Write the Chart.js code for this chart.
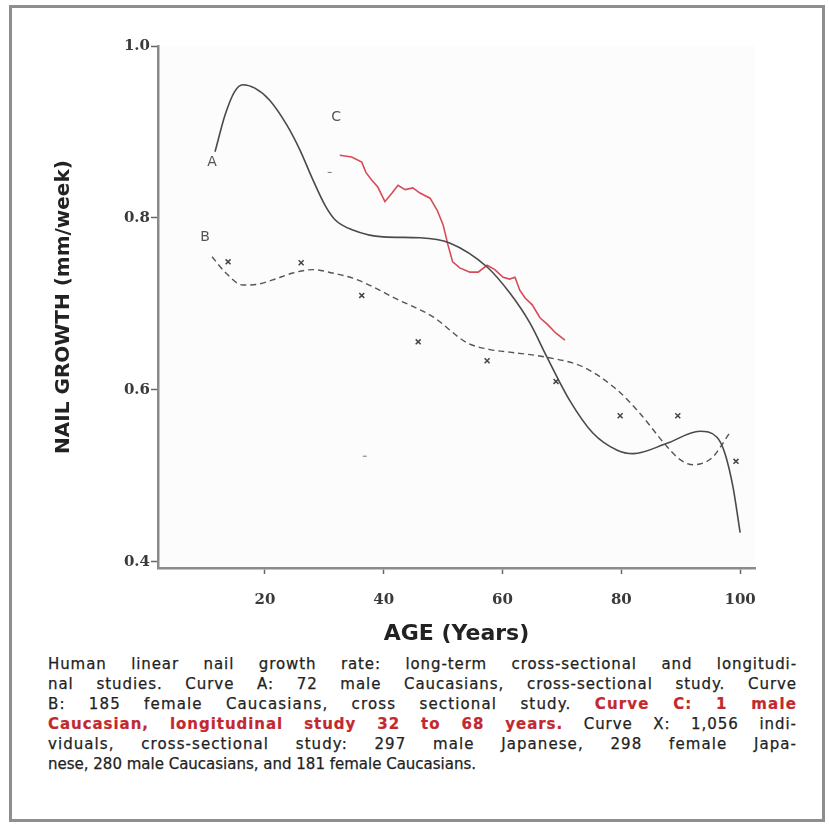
<!DOCTYPE html>
<html>
<head>
<meta charset="utf-8">
<title>Nail growth</title>
<script src="https://cdn.jsdelivr.net/npm/chart.js@4.4.0/dist/chart.umd.min.js"></script>
<style>
    html, body { margin: 0; padding: 0; background: #fff; }
    #page { position: relative; width: 829px; height: 827px; overflow: hidden; }
    #frame { position: absolute; left: 9px; top: 5px; width: 810px; height: 811px; border: 3px solid #8e8e8e; }
    #chart { position: absolute; left: 0; top: 0; }
    #caption { position: absolute; left: 48px; top: 654px; width: 749px;
        font-family: "DejaVu Sans", sans-serif; font-size: 15px; line-height: 20px; color: #222;
        -webkit-text-stroke: 0.25px #222; }
    #caption div { white-space: nowrap; text-align: left; }
    #caption div.just { text-align: justify; text-align-last: justify; }
    .red { color: #c3282f; font-weight: bold; -webkit-text-stroke: 0.2px #c3282f; }
</style>
</head>
<body>
<div id="page">
    <div id="frame"></div>
    <canvas id="chart" width="829" height="650"></canvas>
    <div id="caption">
        <div>Human linear nail growth rate: long-term cross-sectional and longitudi-</div>
        <div>nal studies. Curve A: 72 male Caucasians, cross-sectional study. Curve</div>
        <div>B: 185 female Caucasians, cross sectional study. <span class="red">Curve C: 1 male</span></div>
        <div><span class="red">Caucasian, longitudinal study 32 to 68 years.</span> Curve X: 1,056 indi-</div>
        <div>viduals, cross-sectional study: 297 male Japanese, 298 female Japa-</div>
        <div class="last">nese, 280 male Caucasians, and 181 female Caucasians.</div>
    </div>
</div>
<script>
//data (age in years, growth in mm/week)

//curve A: 72 male Caucasians (solid)
const ageA = [11.6, 13.3, 14.9, 16.3, 18.3, 20.8, 23.7, 25.9, 28.1, 30.1, 31.8, 34.8, 39.9, 46.1, 51.1,
    57.4, 61.2, 64.6, 67.5, 71.3, 75.2, 79.3, 82, 87.7, 93.2, 96.1, 97.4, 98.8, 100];
const rateA = [0.877, 0.92, 0.947, 0.955, 0.951, 0.937, 0.908, 0.879, 0.844, 0.815, 0.798, 0.786, 0.778, 0.777, 0.771,
    0.743, 0.713, 0.678, 0.638, 0.588, 0.55, 0.53, 0.526, 0.538, 0.552, 0.545, 0.527, 0.487, 0.434];

//curve B: 185 female Caucasians (dashed)
const ageB = [11.1, 13.3, 16.3, 18.8, 21.3, 24.7, 28.1, 31.4, 34.8, 38.2, 41.5, 48.3, 54, 57.9, 61.2,
    67.5, 73.5, 79.3, 83.1, 87.7, 89.9, 92.1, 94.1, 95.4, 96.9, 98.3];
const rateB = [0.755, 0.737, 0.722, 0.723, 0.728, 0.736, 0.74, 0.736, 0.73, 0.72, 0.708, 0.685, 0.655, 0.647, 0.644,
    0.638, 0.627, 0.6, 0.573, 0.534, 0.519, 0.513, 0.516, 0.522, 0.536, 0.551];

//curve C: 1 male Caucasian, longitudinal (red)
const ageC = [32.6, 34.6, 36.3, 37, 38, 39, 40.2, 41.4, 42.4, 43.6, 44.9, 46.1, 47.8, 49, 50, 50.8, 51.6,
    52.8, 54.5, 55.9, 57.4, 58.7, 60.1, 61.2, 62.1, 62.9, 63.8, 65, 66.3, 67.6, 69, 70.5];
const rateC = [0.873, 0.871, 0.865, 0.853, 0.844, 0.836, 0.819, 0.829, 0.838, 0.833, 0.835, 0.829, 0.823, 0.809, 0.792, 0.769, 0.749,
    0.742, 0.737, 0.737, 0.745, 0.74, 0.731, 0.729, 0.731, 0.716, 0.707, 0.699, 0.684, 0.676, 0.666, 0.658];

//curve X: 1,056 individuals (markers)
const ageX = [13.8, 26.1, 36.3, 45.8, 57.4, 69, 79.8, 89.5, 99.3];
const rateX = [0.749, 0.748, 0.71, 0.656, 0.634, 0.61, 0.57, 0.57, 0.517];

//stray specks on the scan
const ageSpeck = [30.9, 36.8];
const rateSpeck = [0.853, 0.523];

//curve letters
const letters = ["A", "B", "C"];
const letterAge = [11.1, 9.9, 32];
const letterRate = [0.865, 0.778, 0.917];

//axis ticks
const xTicks = [20, 40, 60, 80, 100];
const yTicks = [0.4, 0.6, 0.8, 1.0];

//zip two arrays into {x, y} points
function toPoints(xs, ys) {
    return xs.map((x, i) => ({ x: x, y: ys[i] }));
}

//faint background of the plot area
const plotBackground = {
    id: "plotBackground",
    beforeDraw(chart) {
        const { ctx, chartArea } = chart;
        ctx.save();
        ctx.fillStyle = "#fcfcfc";
        ctx.fillRect(chartArea.left, chartArea.top, chartArea.width, chartArea.height);
        ctx.restore();
    }
};

//curve letters A, B, C placed in data coordinates
const curveLetters = {
    id: "curveLetters",
    afterDatasetsDraw(chart) {
        const ctx = chart.ctx;
        const sx = chart.scales.x;
        const sy = chart.scales.y;
        ctx.save();
        ctx.font = "14px 'DejaVu Sans'";
        ctx.fillStyle = "#555";
        ctx.textAlign = "center";
        ctx.textBaseline = "middle";
        letters.forEach((l, i) => {
            ctx.fillText(l, sx.getPixelForValue(letterAge[i]), sy.getPixelForValue(letterRate[i]));
        });
        ctx.restore();
    }
};

//justify caption lines, spreading part of the slack between letters
function justifyCaption() {
    const box = document.getElementById("caption");
    const full = box.clientWidth;
    const lines = box.querySelectorAll("div");
    lines.forEach((div, i) => {
        if (i === lines.length - 1) return;
        let r = document.createRange();
        r.selectNodeContents(div);
        let natural = r.getBoundingClientRect().width;
        let chars = div.textContent.length;
        let extra = Math.max(full - natural, 0);
        div.style.letterSpacing = (extra * 0.3 / chars).toFixed(2) + "px";
        div.classList.add("just");
    });
}

document.addEventListener("DOMContentLoaded", () => {
    justifyCaption();

    let context = document.getElementById("chart").getContext("2d");
    const tickFont = { family: "'DejaVu Serif'", size: 15, weight: "bold" };
    const titleFont = { family: "'DejaVu Sans'", weight: "bold" };

    new Chart(context, {
        type: "scatter",
        data: {
            datasets: [
                {
                    label: "Curve A",
                    data: toPoints(ageA, rateA),
                    showLine: true,
                    borderColor: "#4a4a4a",
                    borderWidth: 1.6,
                    cubicInterpolationMode: "monotone",
                    pointRadius: 0
                },
                {
                    label: "Curve B",
                    data: toPoints(ageB, rateB),
                    showLine: true,
                    borderColor: "#555",
                    borderWidth: 1.4,
                    borderDash: [6, 4],
                    cubicInterpolationMode: "monotone",
                    pointRadius: 0
                },
                {
                    label: "Curve C",
                    data: toPoints(ageC, rateC),
                    showLine: true,
                    borderColor: "#d64b57",
                    borderWidth: 1.6,
                    tension: 0,
                    pointRadius: 0
                },
                {
                    label: "Curve X",
                    data: toPoints(ageX, rateX),
                    pointStyle: "crossRot",
                    pointRadius: 3.5,
                    borderColor: "#444",
                    borderWidth: 1.5
                },
                {
                    label: "specks",
                    data: toPoints(ageSpeck, rateSpeck),
                    pointStyle: "line",
                    pointRadius: 2,
                    borderColor: "#777",
                    borderWidth: 1
                }
            ]
        },
        options: {
            responsive: false,
            animation: false,
            devicePixelRatio: 1,
            layout: { padding: { left: 48, top: 46, right: 74, bottom: 0 } },
            plugins: {
                legend: { display: false },
                tooltip: { enabled: false }
            },
            scales: {
                x: {
                    type: "linear",
                    min: 2,
                    max: 102.5,
                    afterBuildTicks: (axis) => { axis.ticks = xTicks.map(v => ({ value: v })); },
                    afterFit: (axis) => { axis.height = 82; },
                    grid: { drawOnChartArea: false, drawTicks: true, tickLength: 6, tickColor: "#666", tickWidth: 1.5 },
                    border: { display: true, color: "#8a8a8a", width: 2.5 },
                    ticks: { font: tickFont, color: "#3a3a3a", padding: 17, maxRotation: 0 },
                    title: { display: true, text: "AGE (Years)", font: { ...titleFont, size: 22 }, color: "#222", padding: { top: 0, bottom: 3 } }
                },
                y: {
                    type: "linear",
                    min: 0.393,
                    max: 1.0,
                    afterBuildTicks: (axis) => { axis.ticks = yTicks.map(v => ({ value: v })); },
                    afterFit: (axis) => { axis.width = 110; },
                    grid: { drawOnChartArea: false, drawTicks: true, tickLength: 7, tickColor: "#666", tickWidth: 1.5 },
                    border: { display: true, color: "#8a8a8a", width: 2.5 },
                    ticks: { font: tickFont, color: "#3a3a3a", padding: 1, callback: (v) => v.toFixed(1) },
                    title: { display: true, text: "NAIL GROWTH (mm/week)", font: { ...titleFont, size: 20 }, color: "#222", padding: { top: 4, bottom: 0 } }
                }
            }
        },
        plugins: [plotBackground, curveLetters]
    });
});
</script>
</body>
</html>
